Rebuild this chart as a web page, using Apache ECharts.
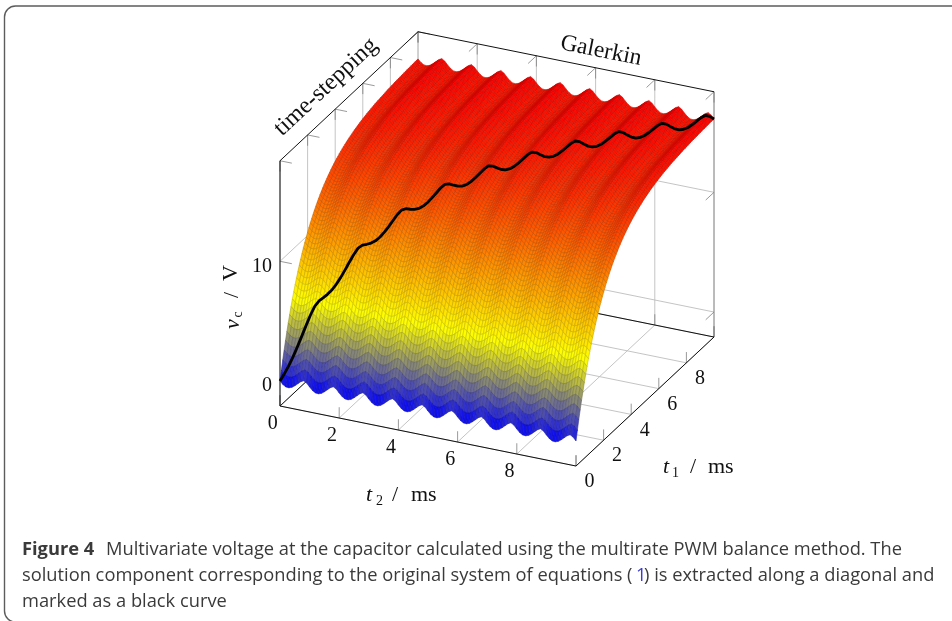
<!DOCTYPE html>
<html><head><meta charset="utf-8">
<style>html,body{margin:0;padding:0;background:#fff}#c{width:952px;height:621px}</style>
<script src="https://cdn.jsdelivr.net/npm/echarts@6/dist/echarts.min.js"></script>
</head><body><div id="c"></div>
<script>
// ---- data ----
// voltage envelope along t1, 0.1 ms steps, 0..10 ms
const riseByT1 = [0,.79,1.55,2.26,2.95,3.59,4.21,4.80,5.36,5.89,
6.39,6.88,7.33,7.77,8.18,8.57,8.95,9.30,9.64,9.97,
10.27,10.56,10.84,11.10,11.36,11.59,11.82,12.04,12.24,12.44,
12.62,12.80,12.97,13.13,13.28,13.43,13.56,13.70,13.82,13.94,
14.05,14.16,14.26,14.36,14.45,14.54,14.62,14.70,14.78,14.85,
14.92,14.98,15.04,15.10,15.16,15.21,15.26,15.31,15.36,15.40,
15.44,15.48,15.52,15.56,15.59,15.62,15.65,15.68,15.71,15.74,
15.76,15.78,15.80,15.82,15.84,15.86,15.88,15.90,15.92,15.93,
15.95,15.96,15.97,15.99,16.00,16.01,16.02,16.03,16.04,16.05,
16.06,16.07,16.08,16.09,16.09,16.10,16.11,16.11,16.12,16.12,16.13];
// PWM ripple along t2, 0.1 ms steps, 0..10 ms
const rippleByT2 = [0,-.25,-.40,-.42,-.33,-.15,.07,.29,.42,.28,
0,-.25,-.40,-.42,-.33,-.15,.07,.29,.42,.28,
0,-.25,-.40,-.42,-.33,-.15,.07,.29,.42,.28,
0,-.25,-.40,-.42,-.33,-.15,.07,.29,.42,.28,
0,-.25,-.40,-.42,-.33,-.15,.07,.29,.42,.28,
0,-.25,-.40,-.42,-.33,-.15,.07,.29,.42,.28,
0,-.25,-.40,-.42,-.33,-.15,.07,.29,.42,.28,
0,-.25,-.40,-.42,-.33,-.15,.07,.29,.42,.28,
0,-.25,-.40,-.42,-.33,-.15,.07,.29,.42,.28,
0,-.25,-.40,-.42,-.33,-.15,.07,.29,.42,.28,0];
const timeTicks = [0,2,4,6,8,10];
const timeTickLabels = ['0','2','4','6','8'];
const voltTicks = [0,10];
const voltTickLabels = ['0','10'];
const timeRange = [0,10];
const voltRange = [-2.09,18.4];
const colorStops = [[-0.42,[0,0,255]],[5.9,[255,255,0]],[16.55,[255,0,0]]];

// ---- oblique projection of (t2,t1,v) onto the drawing plane ----
const proj = (t2,t1,v)=>[280+29.6*t2+13.8*t1, 381+6*t2-12.9*t1-11.97*v];
const [T0,T1]=timeRange, [Z0,Z1]=voltRange;

function mapped(v,k){
  const a=v<colorStops[1][0]?0:1, s0=colorStops[a], s1=colorStops[a+1];
  const f=Math.max(0,Math.min(1,(v-s0[0])/(s1[0]-s0[0])));
  const c=s0[1].map((s,n)=>Math.round((s+(s1[1][n]-s)*f)*k));
  return 'rgb('+c.join(',')+')';
}
const surface=(i,j)=>riseByT1[i]+rippleByT2[j];

// cells back to front
const cells=[];
for(let i=riseByT1.length-2;i>=0;i--) for(let j=0;j<rippleByT2.length-1;j++) cells.push([j,i]);
const diagonal=riseByT1.map((r,i)=>[i/10,i/10,surface(i,i)]);

// axis box pieces: [t2a,t1a,za,t2b,t1b,zb]
const GRID=[],TICK=[],BOX=[];
timeTicks.forEach(t=>{
  GRID.push([t,T0,Z0,t,T1,Z0]);
  GRID.push([T0,t,Z0,T1,t,Z0]);
  GRID.push([t,T1,Z0,t,T1,Z1]);
  GRID.push([T0,t,Z0,T0,t,Z1]);
  TICK.push([t,T0,Z0,t,T0,Z0+.9]);
  TICK.push([T1,t,Z0,T1,t,Z0+.9]);
  TICK.push([t,T1,Z0,t,T1,Z0+.9]);
  TICK.push([T0,t,Z0,T0,t,Z0+.9]);
  TICK.push([t,T1,Z1,t,T1,Z1-.9]);
  TICK.push([T0,t,Z1,T0,t,Z1-.9]);
  TICK.push([t,T1,Z1,t,T1-.6,Z1]);
  TICK.push([T0,t,Z1,T0+.4,t,Z1]);
});
voltTicks.forEach(z=>{
  GRID.push([T0,T1,z,T1,T1,z]);
  GRID.push([T0,T0,z,T0,T1,z]);
  TICK.push([T0,T0,z,T0+.4,T0,z]);
  TICK.push([T1,T1,z,T1,T1-.6,z]);
});
TICK.push([T1,T1,Z0,T1,T1,Z1]);
BOX.push([T0,T0,Z0,T1,T0,Z0],[T1,T0,Z0,T1,T1,Z0],[T0,T0,Z0,T0,T1,Z0],[T0,T1,Z0,T1,T1,Z0],
         [T0,T0,Z0,T0,T0,Z1],[T0,T0,Z1,T0,T1,Z1],[T0,T1,Z1,T1,T1,Z1]);

function segSeries(rows,color,width,z){
  return {type:'custom',coordinateSystem:'cartesian2d',silent:true,animation:false,z,
    data:rows,encode:{x:0,y:1},clip:false,
    renderItem(p,api){
      const r=rows[p.dataIndex];
      const a=api.coord(proj(r[0],r[1],r[2])), b=api.coord(proj(r[3],r[4],r[5]));
      return {type:'line',shape:{x1:a[0],y1:a[1],x2:b[0],y2:b[1]},style:{stroke:color,lineWidth:width,fill:null}};
    }};
}
const DIGIT='20px "Liberation Serif"', INK='#111';
const labelRows=[];
timeTicks.slice(0,-1).forEach((t,k)=>{
  labelRows.push([t,T0,Z0,-7.3,17.5,timeTickLabels[k],'center']);
  labelRows.push([T1,t,Z0,13.5,16,timeTickLabels[k],'center']);
});
voltTicks.forEach((z,k)=>labelRows.push([T0,T0,z,-8,5,voltTickLabels[k],'right']));

const option={
  animation:false,
  backgroundColor:'#fff',
  grid:{left:0,right:0,top:0,bottom:0},
  xAxis:{type:'value',min:0,max:952,show:false},
  yAxis:{type:'value',min:0,max:621,inverse:true,show:false},
  series:[
    segSeries(GRID,'#bdbdbd',.9,1),
    segSeries(TICK,'#808080',.8,2),
    segSeries(BOX,'#111',1,3),
    {type:'custom',coordinateSystem:'cartesian2d',silent:true,animation:false,z:4,clip:false,
     progressive:0,data:cells,encode:{x:0,y:1},
     renderItem(p,api){
       const c=cells[p.dataIndex], j=c[0], i=c[1];
       const pts=[[j,i],[j+1,i],[j+1,i+1],[j,i+1]].map(q=>api.coord(proj(q[0]/10,q[1]/10,surface(q[1],q[0]))));
       const m=(surface(i,j)+surface(i+1,j)+surface(i,j+1)+surface(i+1,j+1))/4;
       return {type:'polygon',shape:{points:pts},style:{fill:mapped(m,1),stroke:mapped(m,.78),lineWidth:.6}};
     }},
    {type:'custom',coordinateSystem:'cartesian2d',silent:true,animation:false,z:5,clip:false,
     data:[0],encode:{x:0},
     renderItem(p,api){
       const pts=diagonal.map(d=>api.coord(proj(d[0],d[1],d[2])));
       return {type:'polyline',shape:{points:pts,smooth:0},style:{stroke:'#000',lineWidth:2.8,fill:null,lineJoin:'round'}};
     }},
    {type:'custom',coordinateSystem:'cartesian2d',silent:true,animation:false,z:6,clip:false,
     data:labelRows,encode:{x:0,y:1},
     renderItem(p,api){
       const r=labelRows[p.dataIndex], a=api.coord(proj(r[0],r[1],r[2]));
       return {type:'text',x:a[0]+r[3],y:a[1]+r[4],style:{text:r[5],font:DIGIT,fill:INK,align:r[6],verticalAlign:'middle'}};
     }}
  ],
  graphic:{elements:(function(){
    const T=(x,y,text,font,extra)=>Object.assign({type:'text',x,y,silent:true,z:10,
      style:{text,font,fill:INK,align:'left',verticalAlign:'middle'}},extra||{});
    const serif='"Liberation Serif"', cap='"Open Sans"';
    const it='italic 22px '+serif, sub='14px '+serif, rm='22px '+serif;
    const rot=Math.PI/2;
    const capFill='#3a3a3a', capSize='18.3px ';
    const C=(x,y,text,bold,fill)=>({type:'text',x,y,silent:true,z:10,
      style:{text,font:(bold?'bold ':'')+capSize+cap,fill:fill||capFill,align:'left',verticalAlign:'middle'}});
    return [
      {type:'rect',shape:{x:4.5,y:6,width:1000,height:616,r:11},silent:true,z:0,style:{fill:'none',stroke:'#5c5c5c',lineWidth:1.4}},
      T(366,495,'t',it), T(376,501,'2',sub), T(392,495,'/',rm), T(411,495,'ms',rm),
      T(663,467,'t',it), T(672,473,'1',sub), T(690,467,'/',rm), T(708,467,'ms',rm),
      T(233,329,'v',it,{rotation:rot}), T(238,317.5,'c',sub,{rotation:rot}), T(232,298,'/',rm,{rotation:rot}), T(231,281,'V',rm,{rotation:rot}),
      {type:'text',x:326,y:87,rotation:43*Math.PI/180,silent:true,z:10,style:{text:'time-stepping',font:'24px '+serif,fill:INK,align:'center',verticalAlign:'middle'}},
      {type:'text',x:601,y:51,rotation:-11.4*Math.PI/180,silent:true,z:10,style:{text:'Galerkin',font:'23.5px '+serif,fill:INK,align:'center',verticalAlign:'middle'}},
      C(22,549.5,'Figure 4',true),
      C(106,549.5,'Multivariate voltage at the capacitor calculated using the multirate PWM balance method. The'),
      C(22,575.5,'solution component corresponding to the original system of equations ('),
      C(636,575.5,'1',false,'#3b3bd6'),
      C(644,575.5,') is extracted along a diagonal and'),
      C(22,602,'marked as a black curve')
    ];
  })()}
};
const chart=echarts.init(document.getElementById('c'),null,{renderer:'canvas'});
chart.setOption(option);
</script></body></html>
